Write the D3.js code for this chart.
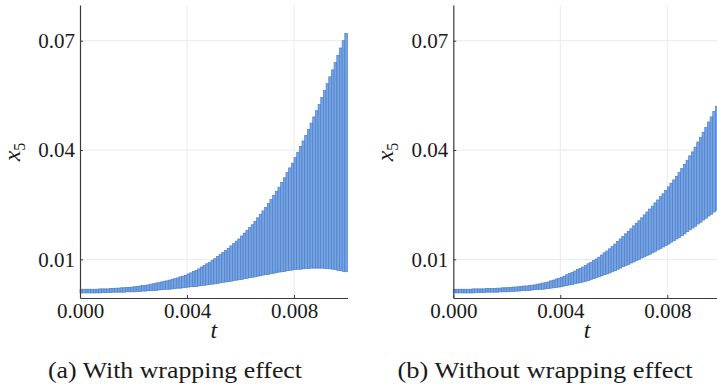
<!DOCTYPE html>
<html><head><meta charset="utf-8">
<script src="https://cdn.jsdelivr.net/npm/d3@7"></script>
<style>body{margin:0;background:#fff}svg{display:block}
#chart text{font-family:"Liberation Serif";}</style>
</head><body>
<svg id="chart" width="717" height="389"></svg>
<script>
// ---- data ----
const tStep = 0.0001;           // integration step (bar width in t)
const xTicks = [0.000, 0.004, 0.008];
const yTicks = [0.01, 0.04, 0.07];
const captions = ["(a) With wrapping effect", "(b) Without wrapping effect"];

const upperA = [0.0018,0.0018,0.0018,0.0018,0.0018, 0.0018,0.0018,0.0019,0.0019,0.0019,
 0.0019,0.0020,0.0020,0.0021,0.0021, 0.0022,0.0022,0.0023,0.0023,0.0024,
 0.0025,0.0026,0.0027,0.0028,0.0029, 0.0030,0.0032,0.0033,0.0035,0.0036,
 0.0038,0.0040,0.0041,0.0043,0.0045, 0.0047,0.0049,0.0052,0.0054,0.0056,
 0.0060,0.0063,0.0067,0.0070,0.0074, 0.0079,0.0083,0.0088,0.0092,0.0097,
 0.0102,0.0108,0.0113,0.0119,0.0124, 0.0130,0.0137,0.0143,0.0150,0.0156,
 0.0164,0.0172,0.0179,0.0187,0.0195, 0.0204,0.0214,0.0223,0.0233,0.0242,
 0.0253,0.0264,0.0276,0.0287,0.0298, 0.0311,0.0324,0.0338,0.0351,0.0364,
 0.0379,0.0394,0.0410,0.0425,0.0440, 0.0457,0.0474,0.0491,0.0508,0.0525,
 0.0544,0.0563,0.0582,0.0601,0.0620, 0.0640,0.0660,0.0680,0.0700,0.0720];

const lowerA = [0.0008,0.0008,0.0008,0.0008,0.0008, 0.0008,0.0008,0.0008,0.0009,0.0009,
 0.0009,0.0009,0.0010,0.0010,0.0010, 0.0010,0.0010,0.0011,0.0011,0.0011,
 0.0011,0.0012,0.0012,0.0013,0.0013, 0.0014,0.0014,0.0015,0.0015,0.0016,
 0.0017,0.0017,0.0018,0.0018,0.0019, 0.0020,0.0021,0.0021,0.0022,0.0023,
 0.0024,0.0025,0.0025,0.0026,0.0027, 0.0028,0.0029,0.0030,0.0031,0.0032,
 0.0033,0.0034,0.0036,0.0037,0.0038, 0.0039,0.0040,0.0042,0.0043,0.0044,
 0.0045,0.0047,0.0048,0.0050,0.0051, 0.0052,0.0054,0.0055,0.0057,0.0058,
 0.0059,0.0061,0.0062,0.0064,0.0065, 0.0066,0.0067,0.0069,0.0070,0.0071,
 0.0072,0.0073,0.0073,0.0074,0.0075, 0.0075,0.0076,0.0076,0.0076,0.0076,
 0.0076,0.0075,0.0075,0.0074,0.0073, 0.0072,0.0070,0.0069,0.0067,0.0066];

const upperB = [0.0018,0.0018,0.0018,0.0018,0.0018, 0.0018,0.0018,0.0019,0.0019,0.0019,
 0.0019,0.0019,0.0020,0.0020,0.0020, 0.0020,0.0021,0.0021,0.0022,0.0022,
 0.0023,0.0023,0.0024,0.0024,0.0025, 0.0026,0.0027,0.0027,0.0028,0.0029,
 0.0030,0.0032,0.0033,0.0035,0.0036, 0.0038,0.0041,0.0043,0.0046,0.0048,
 0.0051,0.0054,0.0058,0.0061,0.0064, 0.0068,0.0072,0.0075,0.0079,0.0083,
 0.0088,0.0092,0.0097,0.0101,0.0106, 0.0112,0.0118,0.0123,0.0129,0.0135,
 0.0142,0.0149,0.0156,0.0163,0.0170, 0.0177,0.0184,0.0192,0.0199,0.0206,
 0.0214,0.0222,0.0230,0.0238,0.0246, 0.0255,0.0263,0.0272,0.0280,0.0289,
 0.0299,0.0309,0.0318,0.0328,0.0338, 0.0349,0.0361,0.0372,0.0384,0.0395,
 0.0408,0.0422,0.0435,0.0449,0.0462, 0.0477,0.0491,0.0506,0.0520,0.0535];

const lowerB = [0.0008,0.0008,0.0008,0.0008,0.0008, 0.0008,0.0008,0.0008,0.0009,0.0009,
 0.0009,0.0009,0.0010,0.0010,0.0010, 0.0010,0.0010,0.0011,0.0011,0.0011,
 0.0011,0.0012,0.0012,0.0013,0.0013, 0.0014,0.0014,0.0015,0.0015,0.0016,
 0.0017,0.0017,0.0018,0.0018,0.0019, 0.0020,0.0021,0.0022,0.0023,0.0024,
 0.0025,0.0027,0.0028,0.0030,0.0031, 0.0033,0.0035,0.0036,0.0038,0.0040,
 0.0042,0.0045,0.0047,0.0050,0.0052, 0.0055,0.0058,0.0060,0.0063,0.0066,
 0.0069,0.0073,0.0076,0.0080,0.0083, 0.0086,0.0090,0.0093,0.0097,0.0100,
 0.0104,0.0107,0.0111,0.0114,0.0118, 0.0122,0.0126,0.0130,0.0134,0.0138,
 0.0142,0.0147,0.0151,0.0156,0.0160, 0.0165,0.0170,0.0176,0.0181,0.0186,
 0.0191,0.0197,0.0202,0.0208,0.0213, 0.0219,0.0224,0.0230,0.0235,0.0241];

// ---- drawing ----
const svg = d3.select("#chart");
const FONT = "Liberation Serif";
const yTop = 5, yBottom = 298;

const panels = [
  {x0: 80, x1: 347.5, upper: upperA, lower: lowerA, caption: captions[0], capX: 175, capW: 254},
  {x0: 453.3, x1: 720.8, upper: upperB, lower: lowerB, caption: captions[1], capX: 545, capW: 295}
];

panels.forEach((p) => {
  const xs = d3.scaleLinear().domain([0, 0.01]).range([p.x0, p.x1]);
  const ys = d3.scaleLinear().domain([-0.0006, 0.0798]).range([yBottom, yTop]);
  const g = svg.append("g").attr("font-family", FONT);

  // grid
  g.selectAll(".vg").data(xTicks.filter(d => d > 0)).join("line")
    .attr("x1", d => xs(d)).attr("x2", d => xs(d))
    .attr("y1", yTop).attr("y2", yBottom)
    .attr("stroke", "#ebebeb").attr("stroke-width", 1);
  g.selectAll(".hg").data(yTicks).join("line")
    .attr("x1", p.x0).attr("x2", p.x1)
    .attr("y1", d => ys(d)).attr("y2", d => ys(d))
    .attr("stroke", "#ebebeb").attr("stroke-width", 1);

  // interval bars
  const bars = p.upper.map((u, i) => ({t0: i * tStep, t1: (i + 1) * tStep, hi: u, lo: p.lower[i]}));
  g.selectAll(".bar").data(bars).join("rect")
    .attr("x", d => xs(d.t0))
    .attr("width", d => xs(d.t1) - xs(d.t0))
    .attr("y", d => ys(d.hi))
    .attr("height", d => ys(d.lo) - ys(d.hi))
    .attr("fill", "#76a4e2")
    .attr("stroke", "#4d7fca")
    .attr("stroke-width", 0.7);

  // axes
  const xAxis = d3.axisBottom(xs).tickValues(xTicks).tickFormat(d3.format(".3f"))
    .tickSizeInner(-3).tickSizeOuter(0).tickPadding(5);
  const yAxis = d3.axisLeft(ys).tickValues(yTicks).tickFormat(d3.format(".2f"))
    .tickSizeInner(-3).tickSizeOuter(0).tickPadding(5);

  const gx = g.append("g").attr("transform", `translate(0,${yBottom})`).call(xAxis);
  const gy = g.append("g").attr("transform", `translate(${p.x0},0)`).call(yAxis);
  [gx, gy].forEach(a => {
    a.attr("font-family", FONT).attr("font-size", 21);
    a.select(".domain").attr("stroke", "#3a3a3a").attr("stroke-width", 1.2);
    a.selectAll(".tick line").attr("stroke", "#3a3a3a");
    a.selectAll("text").attr("font-family", FONT).attr("font-size", 21).attr("fill", "#1a1a1a");
  });

  // axis titles
  g.append("text")
    .attr("x", (p.x0 + p.x1) / 2).attr("y", 338)
    .attr("text-anchor", "middle")
    .attr("font-family", FONT).attr("font-size", 24).attr("font-style", "italic")
    .attr("fill", "#1a1a1a").text("t");

  const yl = g.append("text")
    .attr("transform", `translate(${p.x0 - 60},152) rotate(-90)`)
    .attr("text-anchor", "middle")
    .attr("font-family", FONT).attr("font-size", 24).attr("fill", "#1a1a1a");
  yl.append("tspan").attr("font-style", "italic").text("x");
  yl.append("tspan").attr("font-size", 16).attr("dy", 5).text("5");

  // caption
  g.append("text")
    .attr("x", p.capX).attr("y", 378)
    .attr("text-anchor", "middle")
    .attr("font-family", FONT).attr("font-size", 23).attr("fill", "#1a1a1a")
    .attr("textLength", p.capW).attr("lengthAdjust", "spacingAndGlyphs")
    .text(p.caption);
});
</script>
</body></html>
